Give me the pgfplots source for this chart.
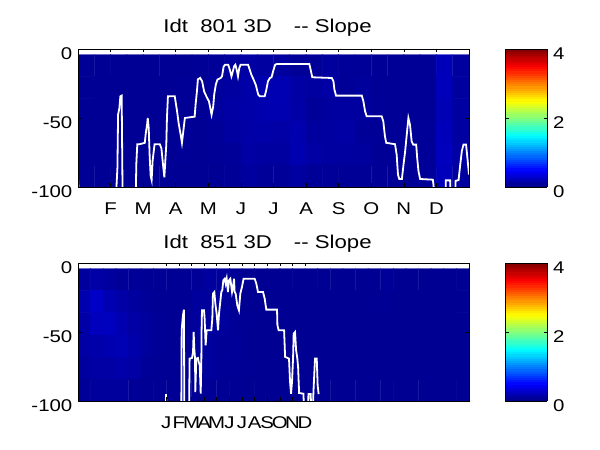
\documentclass[border=0pt]{standalone}
\usepackage{fontspec}
\setmainfont{Liberation Sans}[FakeStretch=1.2]
\usepackage{pgfplots}
\usepackage{pgfplotstable}
\pgfplotsset{compat=1.18}

% slope grid, station 801 (x = month, y = depth, c = slope)
\pgfplotstableread[row sep=\\]{
x y c\\
0.25 -12 0.08\\ 0.75 -12 0.08\\ 1.25 -12 0.08\\ 1.75 -12 0.08\\ 2.25 -12 0.08\\ 2.75 -12 0.08\\ 3.25 -12 0.08\\ 3.75 -12 0.09\\ 4.25 -12 0.10\\ 4.75 -12 0.12\\ 5.25 -12 0.14\\ 5.75 -12 0.13\\ 6.25 -12 0.12\\ 6.75 -12 0.10\\ 7.25 -12 0.10\\ 7.75 -12 0.12\\ 8.25 -12 0.10\\ 8.75 -12 0.10\\ 9.25 -12 0.09\\ 9.75 -12 0.09\\ 10.25 -12 0.09\\ 10.75 -12 0.09\\ 11.25 -12 0.23\\ 11.75 -12 0.12\\
0.25 -28 0.08\\ 0.75 -28 0.08\\ 1.25 -28 0.08\\ 1.75 -28 0.08\\ 2.25 -28 0.08\\ 2.75 -28 0.08\\ 3.25 -28 0.09\\ 3.75 -28 0.09\\ 4.25 -28 0.11\\ 4.75 -28 0.13\\ 5.25 -28 0.16\\ 5.75 -28 0.19\\ 6.25 -28 0.20\\ 6.75 -28 0.14\\ 7.25 -28 0.13\\ 7.75 -28 0.14\\ 8.25 -28 0.10\\ 8.75 -28 0.11\\ 9.25 -28 0.09\\ 9.75 -28 0.09\\ 10.25 -28 0.09\\ 10.75 -28 0.09\\ 11.25 -28 0.23\\ 11.75 -28 0.12\\
0.25 -44 0.08\\ 0.75 -44 0.08\\ 1.25 -44 0.08\\ 1.75 -44 0.08\\ 2.25 -44 0.08\\ 2.75 -44 0.08\\ 3.25 -44 0.09\\ 3.75 -44 0.08\\ 4.25 -44 0.12\\ 4.75 -44 0.14\\ 5.25 -44 0.16\\ 5.75 -44 0.18\\ 6.25 -44 0.19\\ 6.75 -44 0.15\\ 7.25 -44 0.10\\ 7.75 -44 0.12\\ 8.25 -44 0.13\\ 8.75 -44 0.12\\ 9.25 -44 0.10\\ 9.75 -44 0.09\\ 10.25 -44 0.09\\ 10.75 -44 0.09\\ 11.25 -44 0.21\\ 11.75 -44 0.13\\
0.25 -60 0.08\\ 0.75 -60 0.08\\ 1.25 -60 0.08\\ 1.75 -60 0.08\\ 2.25 -60 0.08\\ 2.75 -60 0.08\\ 3.25 -60 0.09\\ 3.75 -60 0.08\\ 4.25 -60 0.10\\ 4.75 -60 0.13\\ 5.25 -60 0.15\\ 5.75 -60 0.16\\ 6.25 -60 0.14\\ 6.75 -60 0.18\\ 7.25 -60 0.12\\ 7.75 -60 0.13\\ 8.25 -60 0.14\\ 8.75 -60 0.10\\ 9.25 -60 0.09\\ 9.75 -60 0.09\\ 10.25 -60 0.09\\ 10.75 -60 0.10\\ 11.25 -60 0.23\\ 11.75 -60 0.13\\
0.25 -76 0.08\\ 0.75 -76 0.08\\ 1.25 -76 0.08\\ 1.75 -76 0.08\\ 2.25 -76 0.08\\ 2.75 -76 0.08\\ 3.25 -76 0.09\\ 3.75 -76 0.08\\ 4.25 -76 0.09\\ 4.75 -76 0.10\\ 5.25 -76 0.14\\ 5.75 -76 0.13\\ 6.25 -76 0.13\\ 6.75 -76 0.19\\ 7.25 -76 0.14\\ 7.75 -76 0.13\\ 8.25 -76 0.12\\ 8.75 -76 0.12\\ 9.25 -76 0.09\\ 9.75 -76 0.09\\ 10.25 -76 0.09\\ 10.75 -76 0.10\\ 11.25 -76 0.24\\ 11.75 -76 0.14\\
0.25 -92 0.08\\ 0.75 -92 0.08\\ 1.25 -92 0.08\\ 1.75 -92 0.08\\ 2.25 -92 0.08\\ 2.75 -92 0.08\\ 3.25 -92 0.08\\ 3.75 -92 0.08\\ 4.25 -92 0.08\\ 4.75 -92 0.09\\ 5.25 -92 0.12\\ 5.75 -92 0.10\\ 6.25 -92 0.10\\ 6.75 -92 0.13\\ 7.25 -92 0.10\\ 7.75 -92 0.10\\ 8.25 -92 0.09\\ 8.75 -92 0.09\\ 9.25 -92 0.09\\ 9.75 -92 0.09\\ 10.25 -92 0.09\\ 10.75 -92 0.10\\ 11.25 -92 0.23\\ 11.75 -92 0.12\\
}\gridA

% slope grid, station 851
\pgfplotstableread[row sep=\\]{
x y c\\
0.5 -12 0.12\\ 1.5 -12 0.15\\ 2.5 -12 0.12\\ 3.5 -12 0.10\\ 4.5 -12 0.10\\ 5.5 -12 0.08\\ 6.5 -12 0.08\\ 7.5 -12 0.08\\ 8.5 -12 0.08\\ 9.5 -12 0.10\\ 10.5 -12 0.12\\ 11.5 -12 0.11\\ 12.5 -12 0.09\\ 13.5 -12 0.07\\ 14.5 -12 0.07\\ 15.5 -12 0.07\\ 16.5 -12 0.07\\ 17.5 -12 0.07\\ 18.5 -12 0.07\\ 19.5 -12 0.07\\ 20.5 -12 0.07\\ 21.5 -12 0.07\\ 22.5 -12 0.07\\ 23.5 -12 0.07\\ 24.5 -12 0.10\\ 25.5 -12 0.07\\ 26.5 -12 0.07\\ 27.5 -12 0.07\\ 28.5 -12 0.07\\ 29.5 -12 0.07\\ 30.5 -12 0.07\\
0.5 -28 0.18\\ 1.5 -28 0.28\\ 2.5 -28 0.20\\ 3.5 -28 0.15\\ 4.5 -28 0.12\\ 5.5 -28 0.10\\ 6.5 -28 0.08\\ 7.5 -28 0.08\\ 8.5 -28 0.08\\ 9.5 -28 0.11\\ 10.5 -28 0.11\\ 11.5 -28 0.11\\ 12.5 -28 0.09\\ 13.5 -28 0.07\\ 14.5 -28 0.07\\ 15.5 -28 0.07\\ 16.5 -28 0.07\\ 17.5 -28 0.07\\ 18.5 -28 0.07\\ 19.5 -28 0.07\\ 20.5 -28 0.07\\ 21.5 -28 0.07\\ 22.5 -28 0.07\\ 23.5 -28 0.07\\ 24.5 -28 0.08\\ 25.5 -28 0.07\\ 26.5 -28 0.07\\ 27.5 -28 0.07\\ 28.5 -28 0.07\\ 29.5 -28 0.07\\ 30.5 -28 0.07\\
0.5 -44 0.15\\ 1.5 -44 0.24\\ 2.5 -44 0.25\\ 3.5 -44 0.19\\ 4.5 -44 0.14\\ 5.5 -44 0.11\\ 6.5 -44 0.09\\ 7.5 -44 0.08\\ 8.5 -44 0.09\\ 9.5 -44 0.11\\ 10.5 -44 0.12\\ 11.5 -44 0.11\\ 12.5 -44 0.09\\ 13.5 -44 0.07\\ 14.5 -44 0.07\\ 15.5 -44 0.07\\ 16.5 -44 0.07\\ 17.5 -44 0.07\\ 18.5 -44 0.07\\ 19.5 -44 0.07\\ 20.5 -44 0.07\\ 21.5 -44 0.07\\ 22.5 -44 0.07\\ 23.5 -44 0.07\\ 24.5 -44 0.07\\ 25.5 -44 0.07\\ 26.5 -44 0.07\\ 27.5 -44 0.07\\ 28.5 -44 0.07\\ 29.5 -44 0.07\\ 30.5 -44 0.07\\
0.5 -60 0.14\\ 1.5 -60 0.17\\ 2.5 -60 0.19\\ 3.5 -60 0.21\\ 4.5 -60 0.17\\ 5.5 -60 0.11\\ 6.5 -60 0.09\\ 7.5 -60 0.08\\ 8.5 -60 0.09\\ 9.5 -60 0.11\\ 10.5 -60 0.11\\ 11.5 -60 0.09\\ 12.5 -60 0.10\\ 13.5 -60 0.07\\ 14.5 -60 0.07\\ 15.5 -60 0.07\\ 16.5 -60 0.07\\ 17.5 -60 0.07\\ 18.5 -60 0.07\\ 19.5 -60 0.07\\ 20.5 -60 0.07\\ 21.5 -60 0.07\\ 22.5 -60 0.07\\ 23.5 -60 0.07\\ 24.5 -60 0.07\\ 25.5 -60 0.07\\ 26.5 -60 0.07\\ 27.5 -60 0.07\\ 28.5 -60 0.07\\ 29.5 -60 0.07\\ 30.5 -60 0.07\\
0.5 -76 0.12\\ 1.5 -76 0.14\\ 2.5 -76 0.14\\ 3.5 -76 0.17\\ 4.5 -76 0.14\\ 5.5 -76 0.09\\ 6.5 -76 0.08\\ 7.5 -76 0.08\\ 8.5 -76 0.08\\ 9.5 -76 0.09\\ 10.5 -76 0.11\\ 11.5 -76 0.09\\ 12.5 -76 0.09\\ 13.5 -76 0.07\\ 14.5 -76 0.07\\ 15.5 -76 0.07\\ 16.5 -76 0.07\\ 17.5 -76 0.07\\ 18.5 -76 0.07\\ 19.5 -76 0.07\\ 20.5 -76 0.07\\ 21.5 -76 0.07\\ 22.5 -76 0.07\\ 23.5 -76 0.07\\ 24.5 -76 0.07\\ 25.5 -76 0.07\\ 26.5 -76 0.07\\ 27.5 -76 0.07\\ 28.5 -76 0.07\\ 29.5 -76 0.07\\ 30.5 -76 0.07\\
0.5 -92 0.10\\ 1.5 -92 0.11\\ 2.5 -92 0.11\\ 3.5 -92 0.11\\ 4.5 -92 0.09\\ 5.5 -92 0.08\\ 6.5 -92 0.08\\ 7.5 -92 0.08\\ 8.5 -92 0.08\\ 9.5 -92 0.08\\ 10.5 -92 0.09\\ 11.5 -92 0.08\\ 12.5 -92 0.08\\ 13.5 -92 0.07\\ 14.5 -92 0.07\\ 15.5 -92 0.07\\ 16.5 -92 0.07\\ 17.5 -92 0.07\\ 18.5 -92 0.07\\ 19.5 -92 0.07\\ 20.5 -92 0.07\\ 21.5 -92 0.07\\ 22.5 -92 0.07\\ 23.5 -92 0.07\\ 24.5 -92 0.07\\ 25.5 -92 0.07\\ 26.5 -92 0.07\\ 27.5 -92 0.07\\ 28.5 -92 0.07\\ 29.5 -92 0.07\\ 30.5 -92 0.07\\
}\gridB

\newcommand\bigfont{\fontsize{17}{20}\selectfont}
\newcommand\titlefont{\fontsize{18.5}{22}\selectfont}

\pgfplotsset{
  slope/.style={
    scale only axis, width=391pt, height=138pt,
    ymin=-100, ymax=0,
    ytick={-100,-50,0}, yticklabels={-100,-50,0},
    tick align=inside, major tick length=3.5pt,
    axis on top, axis line style={line width=0.6pt},
    every tick/.style={black, line width=0.6pt},
    colormap/jet, point meta min=0, point meta max=4,
    tick label style={font=\bigfont},
    yticklabel style={anchor=base east, inner sep=0pt, xshift=-5.5pt, yshift=-10.3pt},
    xticklabel style={anchor=base, inner sep=0pt, yshift=-28pt},
    title style={font=\titlefont, anchor=base, at={(0.5,1)}, xshift=-6pt, inner sep=0pt},
    colorbar sampled,
    colorbar style={
      samples=65,
      scale only axis, width=42pt, height=138pt,
      at={(parent axis.north east)}, anchor=north west, xshift=27.5pt,
      ytick={0,2,4}, yticklabels={0,2,4}, yticklabel pos=right,
      tick label style={font=\bigfont},
      yticklabel style={anchor=base west, inner sep=0pt, xshift=6pt, yshift=-10.3pt},
      tick align=inside, major tick length=3.5pt,
      axis line style={line width=0.6pt},
    },
  },
}

\begin{document}
\bigfont
\begin{tikzpicture}
\useasboundingbox (0,0) rectangle (600pt,450pt);

\begin{axis}[slope,
  at={(78pt,263pt)}, anchor=south west,
  xmin=0, xmax=12,
  xtick={1,2,3,4,5,6,7,8,9,10,11},
  xticklabels={F,M,A,M,J,J,A,S,O,N,D},
  title={Idt\ \ 801 3D\hspace{22pt}-{}- Slope},
  title style={yshift=10.3pt},
]
\addplot[matrix plot*, mesh/cols=24, point meta=explicit] table[x=x, y=y, meta=c] {\gridA};
\addplot[white, line width=1.8pt] coordinates {
(0,-94) (0.04,-110) (1.16,-110) (1.18,-100) (1.21,-86) (1.23,-47.6) (1.27,-42.8) (1.30,-34.3) (1.34,-33.8) (1.37,-110)
(1.77,-110) (1.79,-83) (1.82,-69) (1.89,-69) (2.05,-68) (2.08,-61) (2.12,-55) (2.14,-50) (2.17,-57) (2.20,-78)
(2.23,-92) (2.26,-95) (2.29,-81) (2.35,-69) (2.51,-69) (2.56,-72) (2.61,-84) (2.65,-93) (2.68,-81) (2.71,-69)
(2.73,-50) (2.76,-34.3) (2.97,-34.3) (3.00,-39) (3.04,-45) (3.09,-54) (3.15,-62) (3.19,-68) (3.24,-58) (3.28,-50)
(3.58,-49) (3.61,-40) (3.65,-30.7) (3.68,-22) (3.75,-21) (3.81,-23.4) (3.87,-30.7) (3.94,-34.3) (4.02,-38) (4.07,-44)
(4.10,-47.6) (4.15,-41.5) (4.18,-33) (4.23,-25.8) (4.28,-22.2) (4.38,-21) (4.42,-19.8) (4.47,-12.6) (4.52,-11.4) (4.61,-11.4)
(4.66,-15) (4.71,-19.8) (4.74,-17.4) (4.79,-12.6) (4.83,-11.4) (4.87,-15) (4.91,-19.8) (4.95,-13.8) (4.99,-11.4) (5.22,-11.4)
(5.27,-15) (5.32,-18.6) (5.39,-22.2) (5.46,-26.3) (5.53,-33) (5.58,-34.3) (5.73,-34.3) (5.78,-29.5) (5.83,-23.4) (5.89,-21)
(5.94,-20.5) (5.99,-16) (6.05,-11.4) (6.10,-10.9) (7.10,-10.9) (7.14,-15) (7.19,-20.5) (7.79,-21) (7.84,-23.4) (7.87,-29.5)
(7.92,-33.8) (8.71,-33.8) (8.76,-38) (8.81,-45) (8.86,-48.8) (9.32,-48.8) (9.37,-52.4) (9.42,-63.3) (9.46,-68) (9.73,-69)
(9.78,-76.6) (9.82,-91) (9.86,-94.2) (9.94,-94.2) (9.99,-83.8) (10.04,-74.2) (10.09,-62) (10.14,-50) (10.19,-55) (10.24,-67)
(10.29,-69.3) (10.38,-69.3) (10.41,-79) (10.45,-88.6) (10.50,-94.2) (10.89,-94.7) (10.91,-98.3) (10.94,-110) (11.27,-110) (11.29,-95.2)
(11.42,-95.2) (11.44,-110) (11.57,-110) (11.59,-95.5) (11.68,-95) (11.73,-84) (11.78,-74) (11.83,-69.3) (11.91,-69.3) (11.96,-81)
(12.0,-91)
};
\end{axis}

\begin{axis}[slope,
  at={(78pt,49pt)}, anchor=south west,
  xmin=0, xmax=31,
  xtick={7,8,9,10,11,12,13,14,15,16,17,18},
  xticklabels={J,F,M,A,M,J,J,A,S,O,N,D},
  title={Idt\ \ 851 3D\hspace{22pt}-{}- Slope},
  title style={yshift=8pt},
]
\addplot[matrix plot*, mesh/cols=31, point meta=explicit] table[x=x, y=y, meta=c] {\gridB};
\addplot[white, line width=1.8pt] coordinates {
(6.98,-95) (7.00,-110) (8.19,-110) (8.22,-48.8) (8.32,-37.9) (8.40,-33.8) (8.43,-110) (8.80,-110) (8.85,-69.3) (9.04,-68.8)
(9.12,-64.5) (9.17,-50) (9.22,-62) (9.28,-69.3) (9.30,-93.5) (9.38,-69.3) (9.51,-68.8) (9.57,-71.7) (9.65,-74) (9.73,-94.7)
(9.78,-69.3) (9.80,-47.6) (9.83,-34.3) (9.99,-34.3) (10.04,-40.3) (10.12,-59.7) (10.20,-48.8) (10.57,-48.8) (10.65,-40.3) (10.70,-22.2)
(10.81,-21) (10.89,-29.5) (10.99,-36.7) (11.10,-48.8) (11.18,-36.7) (11.28,-28.3) (11.36,-21) (11.44,-19.8) (11.52,-12.6) (11.63,-11.4)
(11.71,-15) (11.79,-11.4) (11.89,-21) (11.97,-12.6) (12.08,-11.4) (12.21,-21) (12.29,-17.4) (12.37,-11.4) (12.42,-21) (12.50,-22.2)
(12.63,-30.7) (12.76,-34.3) (12.87,-22.2) (13.00,-17.4) (13.13,-11.4) (14.01,-11.4) (14.14,-15) (14.27,-21) (14.67,-21) (14.80,-25.8)
(14.93,-33.8) (15.78,-33.8) (15.81,-45) (15.91,-48.8) (16.34,-48.8) (16.42,-68) (16.73,-69.3) (16.81,-86) (16.89,-94.7) (16.97,-86)
(17.05,-69.3) (17.10,-51.2) (17.21,-50) (17.29,-63) (17.39,-69.3) (17.45,-75.4) (17.53,-94.2) (17.87,-94.7) (17.95,-110) (18.24,-110)
(18.27,-95) (18.45,-95) (18.50,-110) (18.64,-110) (18.66,-95) (18.71,-85) (18.79,-69.3) (18.93,-69.3) (19.00,-88.6) (19.08,-95)
};
\end{axis}
\end{tikzpicture}
\end{document}
